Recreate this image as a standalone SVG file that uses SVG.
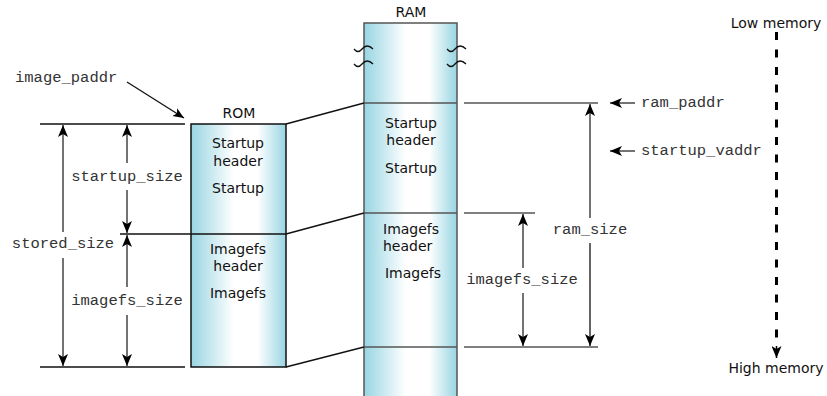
<svg xmlns="http://www.w3.org/2000/svg" width="827" height="396" viewBox="0 0 827 396">
<style>
.sans{font-family:"DejaVu Sans",Verdana,sans-serif;font-size:14px;fill:#111}
.mono{font-family:"Liberation Mono","Courier New",monospace;font-size:15.5px;fill:#333}
.mid{text-anchor:middle}
.ln{stroke:#111;stroke-width:1.3;fill:none}
.gl{stroke:#555;stroke-width:1.5;fill:none}
.dim{stroke:#444;stroke-width:1.5;fill:none}
.sq{stroke:#111;stroke-width:1.3;fill:none}
</style>
<defs>
<linearGradient id="g" x1="0" y1="0" x2="1" y2="0">
<stop offset="0" stop-color="#98d5e2"/>
<stop offset="0.45" stop-color="#ffffff"/>
<stop offset="0.7" stop-color="#ffffff"/>
<stop offset="1" stop-color="#98d5e2"/>
</linearGradient>
<marker id="ah" viewBox="0 0 12 10" refX="12" refY="5" markerWidth="12" markerHeight="10" markerUnits="userSpaceOnUse" orient="auto-start-reverse">
<path d="M0,0 L12,5 L0,10 L3,5 z" fill="#000"/>
</marker>
<marker id="ah2" viewBox="0 0 12 10" refX="12" refY="5" markerWidth="11" markerHeight="11" markerUnits="userSpaceOnUse" orient="auto">
<path d="M0,0 L12,5 L0,10 L3,5 z" fill="#000"/>
</marker>
</defs>

<g id="ram">
<rect x="364" y="23" width="93" height="380" fill="url(#g)"/>
<path class="gl" d="M364,400 V23 H457 V400"/>
<line class="gl" x1="364" y1="103" x2="457" y2="103"/>
<line class="gl" x1="364" y1="213" x2="457" y2="213"/>
<line class="gl" x1="364" y1="347" x2="457" y2="347"/>
<text class="sans mid" x="411" y="17">RAM</text>
<text class="sans mid" x="411" y="128">Startup</text>
<text class="sans mid" x="411" y="145">header</text>
<text class="sans mid" x="411" y="173">Startup</text>
<text class="sans" x="383" y="234">Imagefs</text>
<text class="sans" x="383" y="251">header</text>
<text class="sans mid" x="413" y="278">Imagefs</text>
<path class="sq" d="M354,49 Q358,54 362,49 Q367,43 373,49"/>
<path class="sq" d="M354,64 Q358,69 362,64 Q367,58 373,64"/>
<path class="sq" d="M447,49 Q451,54 455,49 Q460,43 466,49"/>
<path class="sq" d="M447,64 Q451,69 455,64 Q460,58 466,64"/>
</g>

<g id="rom">
<rect x="191" y="124" width="95" height="243" fill="url(#g)" stroke="#111" stroke-width="1.5"/>
<line class="ln" x1="191" y1="234" x2="286" y2="234"/>
<text class="sans mid" x="239" y="118">ROM</text>
<text class="sans mid" x="238" y="148">Startup</text>
<text class="sans mid" x="238" y="166">header</text>
<text class="sans mid" x="238" y="193">Startup</text>
<text class="sans mid" x="238" y="254">Imagefs</text>
<text class="sans mid" x="238" y="271">header</text>
<text class="sans mid" x="238" y="298">Imagefs</text>
</g>

<g id="memory-axis">
<text class="sans mid" x="776" y="28">Low memory</text>
<line x1="776.5" y1="32" x2="776.5" y2="346" stroke="#000" stroke-width="3" stroke-dasharray="8,9.5"/>
<line x1="776.5" y1="346" x2="776.5" y2="358" stroke="#000" stroke-width="1.5" marker-end="url(#ah)"/>
<text class="sans mid" x="776" y="373">High memory</text>
</g>

<g id="labels">
<text class="mono" x="15" y="82">image_paddr</text>
<text class="mono mid" x="127" y="181">startup_size</text>
<text class="mono mid" x="63" y="248">stored_size</text>
<text class="mono mid" x="127" y="305">imagefs_size</text>
<text class="mono mid" x="590" y="234">ram_size</text>
<text class="mono mid" x="522" y="284">imagefs_size</text>
<text class="mono" x="641" y="107">ram_paddr</text>
<text class="mono" x="641" y="155">startup_vaddr</text>
</g>

<g id="connectors">
<line class="ln" x1="286" y1="124" x2="364" y2="103"/>
<line class="ln" x1="286" y1="234" x2="364" y2="213"/>
<line class="ln" x1="286" y1="367" x2="364" y2="347"/>
<line class="ln" x1="40" y1="124" x2="185" y2="124"/>
<line class="ln" x1="120" y1="234" x2="191" y2="234"/>
<line class="ln" x1="40" y1="367" x2="185" y2="367"/>
<line class="gl" x1="464" y1="103" x2="598" y2="103"/>
<line class="gl" x1="464" y1="213" x2="535" y2="213"/>
<line class="gl" x1="464" y1="347" x2="598" y2="347"/>
<line class="ln" x1="127" y1="82" x2="184" y2="118" marker-end="url(#ah2)"/>
<line class="dim" x1="63" y1="232" x2="63" y2="125" marker-end="url(#ah)"/>
<line class="dim" x1="63" y1="258" x2="63" y2="366" marker-end="url(#ah)"/>
<line class="dim" x1="127" y1="163" x2="127" y2="125" marker-end="url(#ah)"/>
<line class="dim" x1="127" y1="190" x2="127" y2="233" marker-end="url(#ah)"/>
<line class="dim" x1="127" y1="287" x2="127" y2="235" marker-end="url(#ah)"/>
<line class="dim" x1="127" y1="315" x2="127" y2="366" marker-end="url(#ah)"/>
<line class="dim" x1="590" y1="218" x2="590" y2="104" marker-end="url(#ah)"/>
<line class="ln" x1="590" y1="243" x2="590" y2="346" marker-end="url(#ah)"/>
<line class="dim" x1="523" y1="268" x2="523" y2="214" marker-end="url(#ah)"/>
<line class="dim" x1="523" y1="293" x2="523" y2="346" marker-end="url(#ah)"/>
<line class="dim" x1="635" y1="103" x2="610" y2="103" marker-end="url(#ah)"/>
<line class="dim" x1="635" y1="151" x2="610" y2="151" marker-end="url(#ah)"/>
</g>
</svg>
